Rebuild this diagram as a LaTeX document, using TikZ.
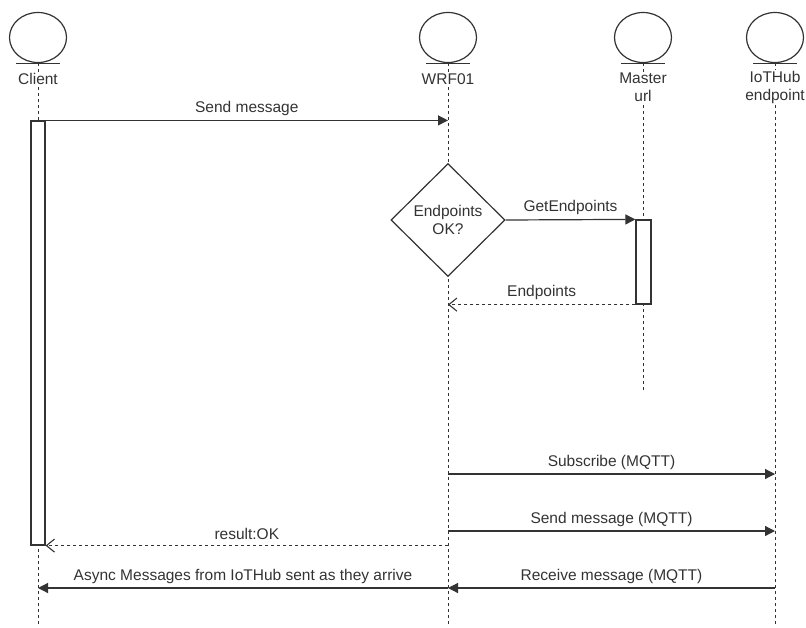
\documentclass[tikz,border=0pt]{standalone}
\usepackage{fontspec}
\setmainfont{Liberation Sans}
\usetikzlibrary{shapes.geometric,arrows.meta}
\definecolor{ln}{HTML}{333333}
\begin{document}
\begin{tikzpicture}[x=1pt,y=-1pt,
  actor/.style={draw=ln, line width=1.2pt, ellipse, minimum width=57pt, minimum height=50pt, inner sep=0pt, fill=white},
  lbl/.style={text=ln, font=\fontsize{15.5}{18}\selectfont, inner sep=1pt, align=center},
  hdl/.style={lbl, fill=white},
  life/.style={draw=ln, line width=1pt, dash pattern=on 3pt off 3pt},
  msg/.style={draw=ln, line width=1.2pt, -{Triangle[length=10pt,width=10pt]}},
  ret/.style={draw=ln, line width=1.1pt, dash pattern=on 3pt off 3pt, -{Straight Barb[length=8pt,width=13pt]}},
  bar/.style={draw=ln, line width=1.2pt, fill=white, rectangle, inner sep=0pt},
  ml/.style={lbl, midway, yshift=12pt}
]
\useasboundingbox (0,0) rectangle (806,627);

% actors
\node[actor] (client) at (38,37.5) {};
\node[actor] (wrf) at (448,37.5) {};
\node[actor] (master) at (643,37.5) {};
\node[actor] (iot) at (775,37.5) {};
\foreach \a in {client,wrf,master,iot}
  \draw[ln, line width=1.2pt] ([xshift=-22pt]\a.south) -- ([xshift=22pt]\a.south);

% lifeline ends
\coordinate (clientE) at (38,627);
\coordinate (wrfE) at (448,627);
\coordinate (masterE) at (643,390);
\coordinate (iotE) at (775,627);
\draw[life] (client.south) -- (clientE);
\draw[life] (wrf.south) -- (wrfE);
\draw[life] (master.south) -- (masterE);
\draw[life] (iot.south) -- (iotE);

% actor labels
\node[hdl] (clientL) at (38,79) {Client};
\node[hdl] (wrfL) at (448,79) {WRF01};
\node[hdl] (masterL) at (643,87.5) {Master\\url};
\node[hdl] (iotL) at (775,87.5) {IoTHub\\endpoint};

% activation bars
\node[bar, minimum width=14pt, minimum height=424pt] (cbar) at (38,333) {};
\node[bar, minimum width=15pt, minimum height=84pt] (mbar) at (643.5,262) {};

% decision
\node[diamond, draw=ln, line width=1.2pt, fill=white, minimum width=114pt, minimum height=113pt, inner sep=0pt, lbl] (dia) at (448,220) {Endpoints\\OK?};

% message levels
\coordinate (y4) at (0,474);
\coordinate (y5) at (0,531);
\coordinate (y7) at (0,588);

% messages
\draw[msg] (cbar.north east) -- (cbar.north east -| wrf) node[ml] {Send message};
\draw[msg] (dia.east) -- (mbar.north west) node[ml] {GetEndpoints};
\draw[ret] (mbar.south west) -- (mbar.south west -| wrf) node[ml] {Endpoints};
\draw[msg] (wrf |- y4) -- (iot |- y4) node[ml] {Subscribe (MQTT)};
\draw[msg] (wrf |- y5) -- (iot |- y5) node[ml] {Send message (MQTT)};
\draw[ret] (wrf |- cbar.south east) -- (cbar.south east) node[ml] {result:OK};
\draw[msg] (wrf |- y7) -- (client |- y7) node[ml] {Async Messages from IoTHub sent as they arrive};
\draw[msg] (iot |- y7) -- (wrf |- y7) node[ml] {Receive message (MQTT)};
\end{tikzpicture}
\end{document}
